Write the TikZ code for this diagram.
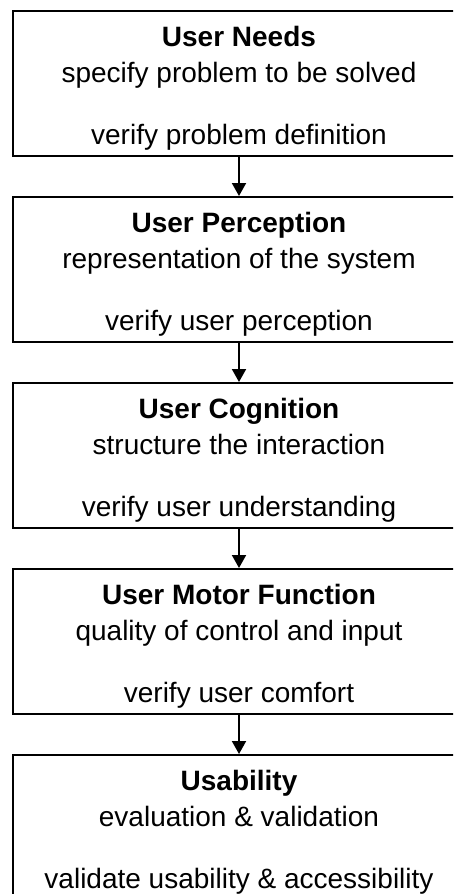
\documentclass[tikz,border=0pt]{standalone}
\usepackage{fontspec}
\setmainfont{Liberation Sans}
\usepackage{tikz}
\usetikzlibrary{arrows.meta,positioning}

\begin{document}
\begin{tikzpicture}[
    x=1pt, y=1pt,
    font=\fontsize{28}{34}\selectfont,
    stage/.style={draw, line width=2pt, minimum width=452pt, minimum height=145pt, inner sep=0pt},
    head/.style={anchor=base, inner sep=0pt, yshift=-36pt, font=\fontsize{28}{34}\selectfont\bfseries},
    sub/.style={anchor=base, inner sep=0pt, yshift=-72pt},
    check/.style={anchor=base, inner sep=0pt, yshift=13pt},
    >={Triangle[length=13pt,width=14pt]},
    ]
\clip (0,0) rectangle (453,-894);
\fill[white] (0,0) rectangle (453,-894);

\node[stage, anchor=north west] (needs) at (12,-10) {};
\node[stage, below=39pt of needs] (perc) {};
\node[stage, below=39pt of perc] (cogn) {};
\node[stage, below=39pt of cogn] (motor) {};
\node[stage, below=39pt of motor] (usab) {};

\node[head] (needs-h) at (needs.north) {User Needs};
\node[sub] (needs-s) at (needs.north) {specify problem to be solved};
\node[check] (needs-c) at (needs.south) {verify problem definition};

\node[head] (perc-h) at (perc.north) {User Perception};
\node[sub] (perc-s) at (perc.north) {representation of the system};
\node[check] (perc-c) at (perc.south) {verify user perception};

\node[head] (cogn-h) at (cogn.north) {User Cognition};
\node[sub] (cogn-s) at (cogn.north) {structure the interaction};
\node[check] (cogn-c) at (cogn.south) {verify user understanding};

\node[head] (motor-h) at (motor.north) {User Motor Function};
\node[sub] (motor-s) at (motor.north) {quality of control and input};
\node[check] (motor-c) at (motor.south) {verify user comfort};

\node[head] (usab-h) at (usab.north) {Usability};
\node[sub] (usab-s) at (usab.north) {evaluation \& validation};
\node[check] (usab-c) at (usab.south) {validate usability \& accessibility};

\draw[->, line width=2pt] (needs) -- (perc);
\draw[->, line width=2pt] (perc) -- (cogn);
\draw[->, line width=2pt] (cogn) -- (motor);
\draw[->, line width=2pt] (motor) -- (usab);
\end{tikzpicture}
\end{document}
